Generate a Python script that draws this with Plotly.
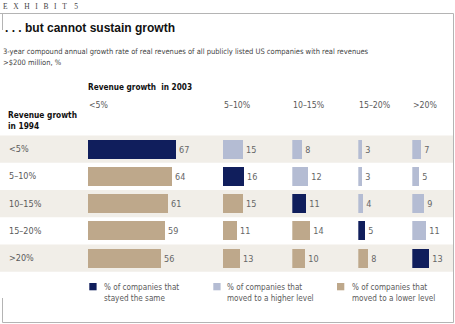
import plotly.graph_objects as go

# ---------------- data ----------------
rows_1994 = ["<5%", "5–10%", "10–15%", "15–20%", ">20%"]
cols_2003 = ["<5%", "5–10%", "10–15%", "15–20%", ">20%"]
# values per 2003 column, listed by 1994 row
col_lt5 = [67, 64, 61, 59, 56]
col_5_10 = [15, 16, 15, 11, 13]
col_10_15 = [8, 12, 11, 14, 10]
col_15_20 = [3, 3, 4, 5, 8]
col_gt20 = [7, 5, 9, 11, 13]
columns = [col_lt5, col_5_10, col_10_15, col_15_20, col_gt20]

legend_labels = ["% of companies that<br>stayed the same",
                 "% of companies that<br>moved to a higher level",
                 "% of companies that<br>moved to a lower level"]

# ---------------- style ----------------
W, H = 455, 324
NAVY = "#101e5c"
LIGHT = "#b4bcd3"
TAN = "#bea88b"
BAND = "#f1eee8"
FRAME = "#b4b4b4"
GREY_TXT = "#5a5a5a"
NARROW = "Liberation Sans Narrow, DejaVu Sans Condensed, Arial Narrow, sans-serif"
SANS = "Liberation Sans, Arial, sans-serif"

SCALE = 1.31            # px per percentage point
col_start = [88, 223, 292.3, 358.3, 412.3]
col_end = [220, 290, 356, 410, 453]
ROW0, ROWSTEP = 149, 27.25
BAR_W = 19 / ROWSTEP


def py(p):
    return 1 - p / H


fig = go.Figure()

for j, vals in enumerate(columns):
    colors = []
    for i in range(len(rows_1994)):
        if i == j:
            colors.append(NAVY)
        elif j > i:
            colors.append(LIGHT)
        else:
            colors.append(TAN)
    axn = "" if j == 0 else str(j + 1)
    fig.add_trace(go.Bar(
        x=vals, y=rows_1994, orientation="h",
        marker=dict(color=colors, line=dict(width=0)),
        width=BAR_W,
        text=vals, textposition="outside", constraintext="none",
        outsidetextfont=dict(family=NARROW, size=9, color="#666"),
        cliponaxis=False,
        xaxis="x" + axn, yaxis="y", showlegend=False,
        hovertemplate="%{y} → " + cols_2003[j] + ": %{x}%<extra></extra>",
    ))

layout = dict(
    width=W, height=H,
    margin=dict(l=0, r=0, t=0, b=0),
    paper_bgcolor="white", plot_bgcolor="rgba(0,0,0,0)",
    bargap=0, showlegend=False,
    yaxis=dict(type="category", categoryorder="array", categoryarray=rows_1994,
               range=[(H - ROW0) / ROWSTEP, -ROW0 / ROWSTEP],
               domain=[0, 1], showticklabels=False, showgrid=False,
               zeroline=False, fixedrange=True, anchor="x"),
)
for j in range(5):
    key = "xaxis" if j == 0 else f"xaxis{j + 1}"
    layout[key] = dict(domain=[col_start[j] / W, col_end[j] / W],
                       range=[0, (col_end[j] - col_start[j]) / SCALE],
                       showticklabels=False, showgrid=False, zeroline=False,
                       showline=False, anchor="y", fixedrange=True)
fig.update_layout(**layout)

shapes = []
# alternating row bands
for i, r in enumerate(rows_1994):
    if i % 2 == 0:
        shapes.append(dict(type="rect", xref="paper", yref="y",
                           x0=0, x1=453 / W, y0=i - 0.5, y1=i + 0.5,
                           fillcolor=BAND, line=dict(width=0), layer="below"))
# frame
lw = dict(color=FRAME, width=1)
shapes += [
    dict(type="line", xref="paper", yref="paper", x0=0, x1=453.5 / W, y0=py(13.5), y1=py(13.5), line=lw),
    dict(type="line", xref="paper", yref="paper", x0=453.5 / W, x1=453.5 / W, y0=py(13.5), y1=py(322.5), line=lw),
    dict(type="line", xref="paper", yref="paper", x0=2.5 / W, x1=453.5 / W, y0=py(322.5), y1=py(322.5), line=lw),
    dict(type="line", xref="paper", yref="paper", x0=2.5 / W, x1=2.5 / W, y0=py(13.5), y1=py(30), line=lw),
    dict(type="line", xref="paper", yref="paper", x0=2.5 / W, x1=2.5 / W, y0=py(298), y1=py(322.5), line=lw),
]
# legend squares
leg_colors = [NAVY, LIGHT, TAN]
leg_sq_x = [89.3, 213.3, 337]
leg_txt_x = [102.5, 225.7, 350.5]
for k in range(3):
    shapes.append(dict(type="rect", xref="paper", yref="paper",
                       x0=leg_sq_x[k] / W, x1=(leg_sq_x[k] + 7.3) / W,
                       y0=py(283), y1=py(290.3), fillcolor=leg_colors[k],
                       line=dict(width=0)))
fig.update_layout(shapes=shapes)

ann = []


def text(x, y, s, size, family=NARROW, color=GREY_TXT, bold=False, yanchor="middle"):
    if bold:
        s = "<b>" + s + "</b>"
    ann.append(dict(xref="paper", yref="paper", x=x / W, y=py(y), text=s,
                    showarrow=False, xanchor="left", yanchor=yanchor, align="left",
                    font=dict(family=family, size=size, color=color),
                    borderpad=0))


GAP = "\u2002\u2005"
text(2, 7, GAP.join(["E", "X", "H", "I", "B", "I", "T"]) + GAP + "\u2005" + "5", 7.5,
     family="Liberation Serif, serif", color="#444")
text(4, 28, ". . . but cannot sustain growth", 12, family=SANS, color="#111", bold=True)
text(2, 51, "3-year compound annual growth rate of real revenues of all publicly listed US companies with real revenues",
     7.5, color="#444")
text(2, 63, ">$200 million, %", 7.5, color="#444")
text(87, 87, "Revenue growth  in 2003", 8.2, color="#111", bold=True)
for j, c in enumerate(cols_2003):
    text(col_start[j], 104.5, c, 8.7)
text(7, 115.5, "Revenue growth", 8.3, color="#111", bold=True)
text(7, 126, "in 1994", 8.3, color="#111", bold=True)
for i, r in enumerate(rows_1994):
    ann.append(dict(xref="paper", yref="y", x=7 / W, y=r, text=r, showarrow=False,
                    xanchor="left", yanchor="middle",
                    font=dict(family=NARROW, size=9, color=GREY_TXT)))
for k in range(3):
    text(leg_txt_x[k], 292.5, legend_labels[k], 8.1)
fig.update_layout(annotations=ann)

fig.write_html("out.html")
